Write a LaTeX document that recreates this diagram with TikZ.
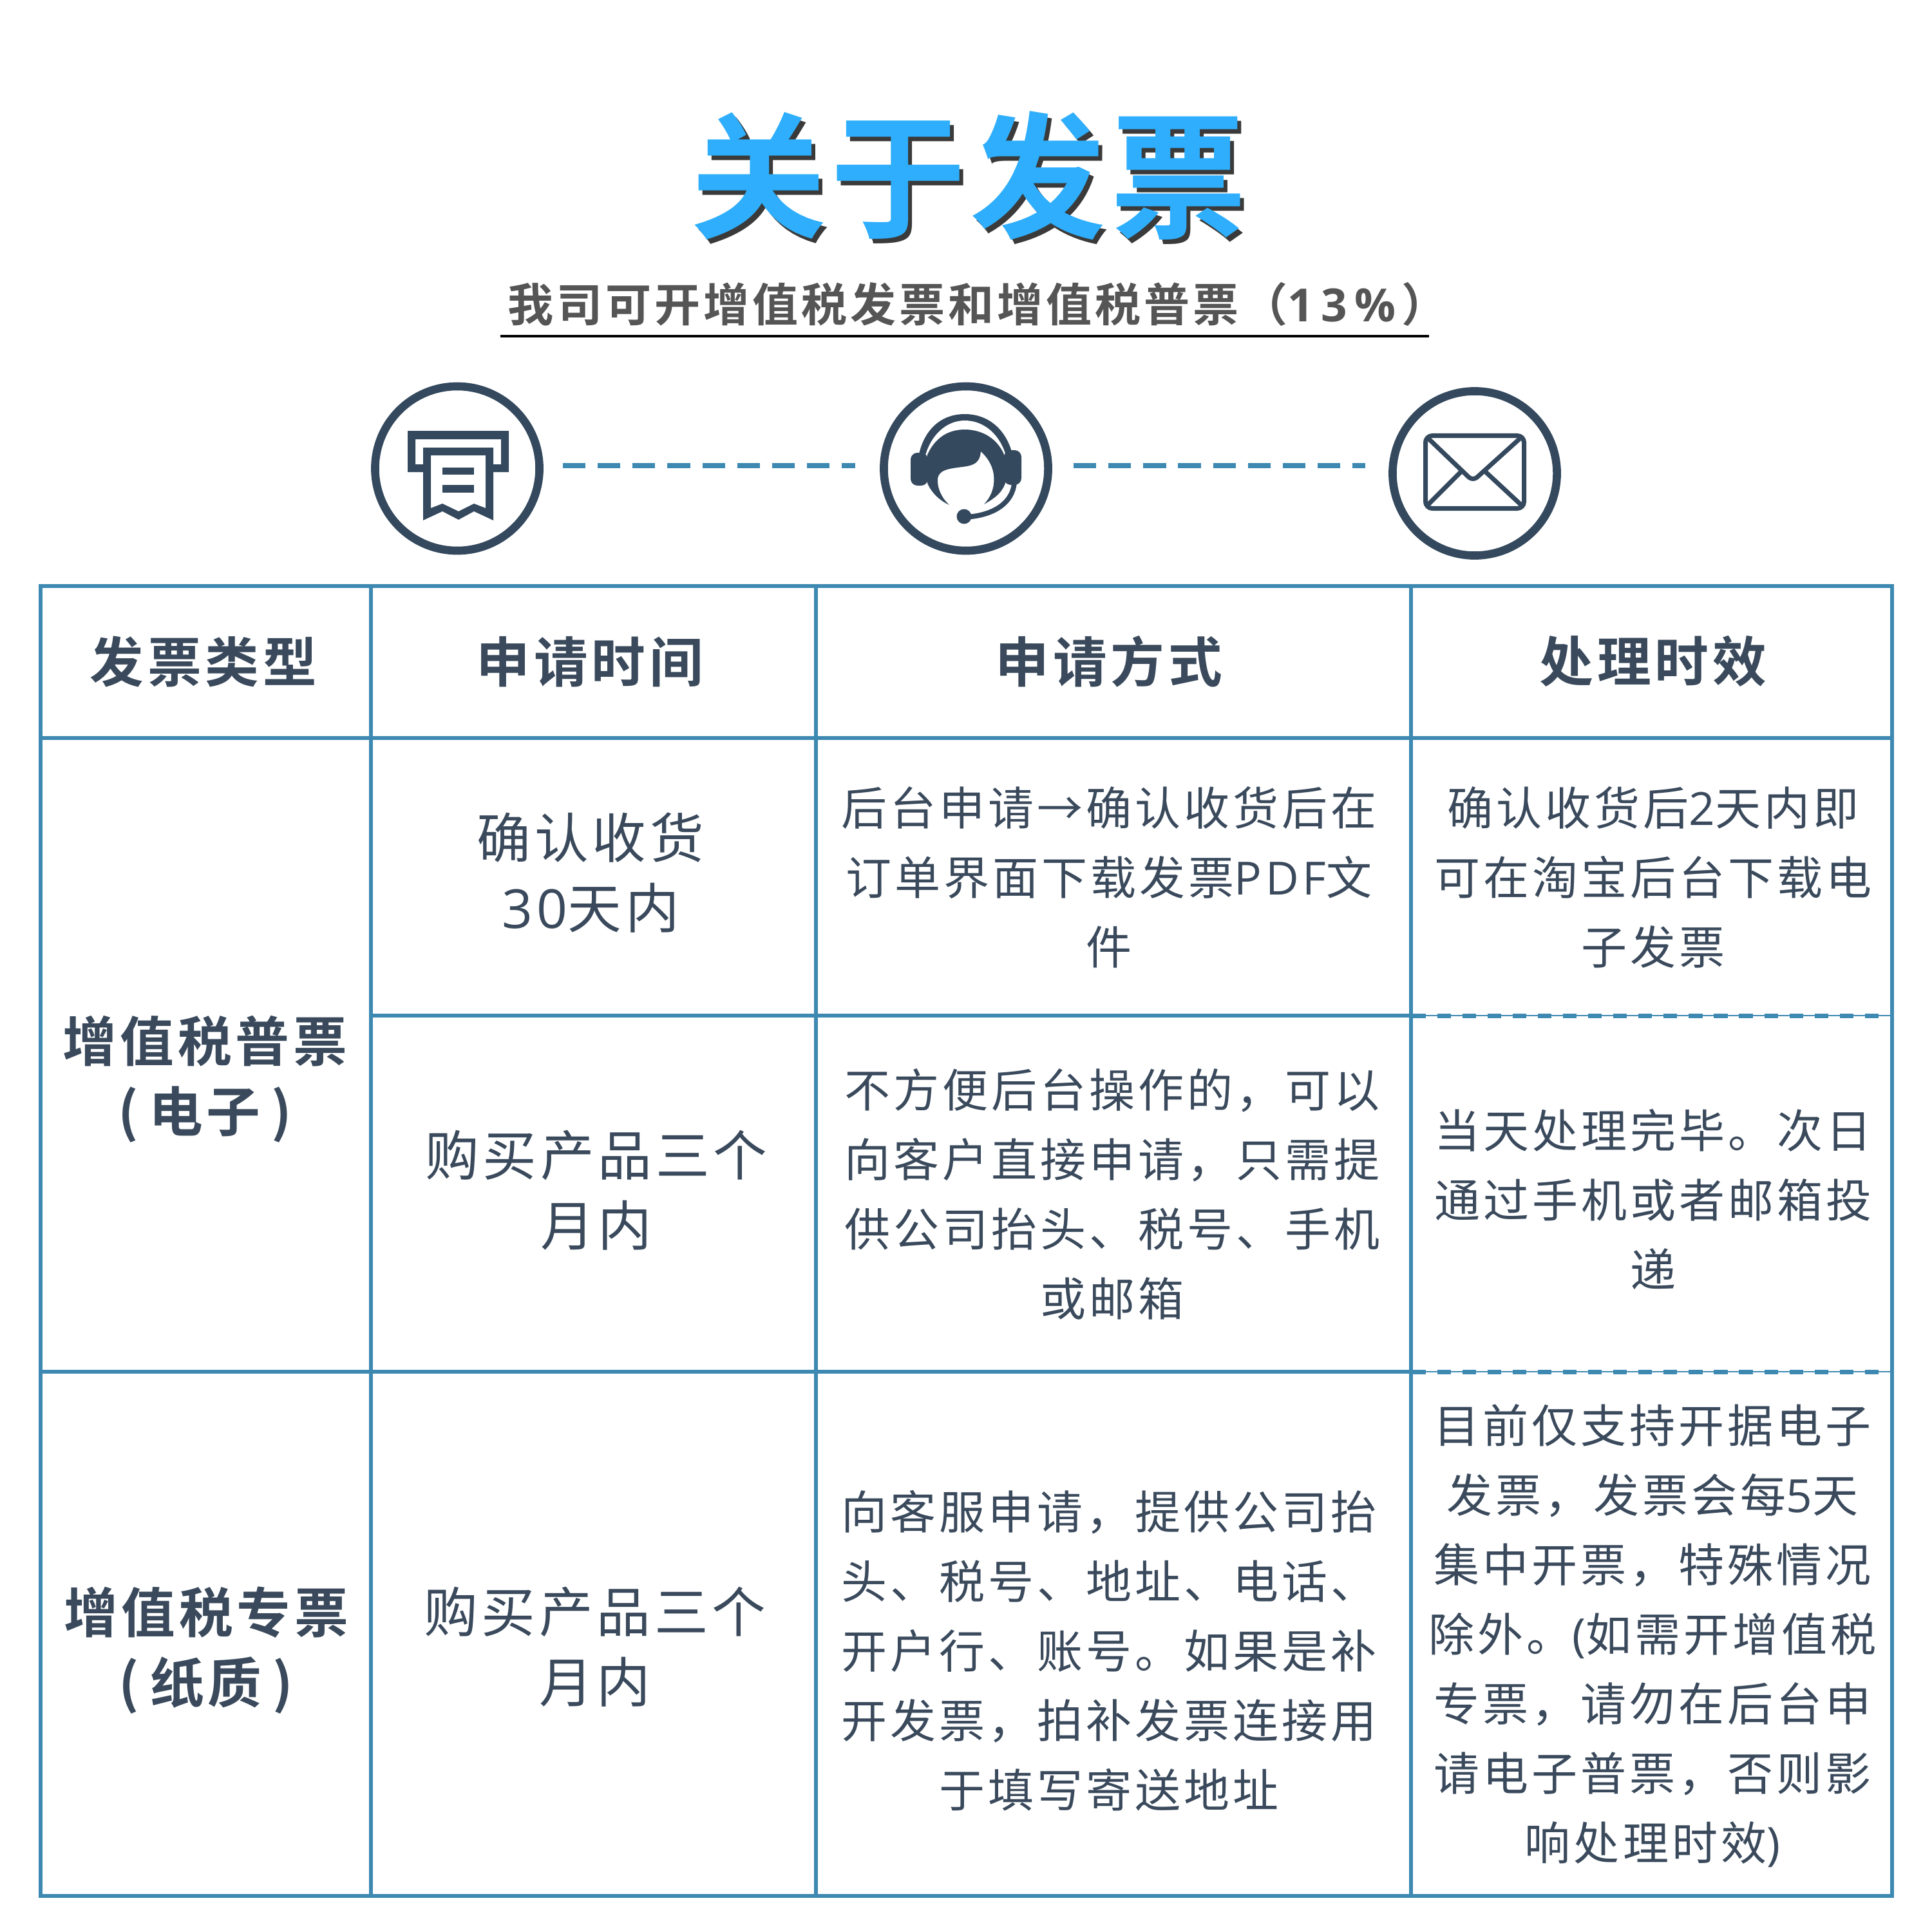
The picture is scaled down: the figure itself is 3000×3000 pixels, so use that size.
\documentclass[tikz,border=0pt]{standalone}
\usepackage{fontspec}
\setmainfont{Noto Sans CJK SC}
\newfontfamily\zhf[LetterSpace=7,BoldFont={Noto Sans CJK SC Bold}]{Noto Sans CJK SC}
\newfontfamily\ltf[LetterSpace=8,BoldFont={Open Sans Bold}]{Open Sans}
\newfontfamily\ltwide[LetterSpace=16,BoldFont={Open Sans Bold}]{Open Sans}
\newfontfamily\titlef[LetterSpace=3,BoldFont={Noto Sans CJK SC Bold}]{Noto Sans CJK SC}
\newcommand\ltn[1]{{\ltf #1}}
\definecolor{ink}{HTML}{3A4A5C}
\definecolor{iconink}{HTML}{34495E}
\definecolor{rule}{HTML}{3D89B1}
\definecolor{titleblue}{HTML}{2EAEFC}
\definecolor{shade}{HTML}{3A3A3A}
\definecolor{subgray}{HTML}{555555}
\tikzset{
  x=0.01cm,y=-0.01cm,
  txt/.style={inner sep=0pt,align=center,text=ink},
  small/.style={txt,font=\fontsize{20.2}{30.7}\selectfont\zhf},
  mid/.style={txt,font=\fontsize{23.8}{31}\selectfont\zhf},
  head/.style={txt,font=\fontsize{23.8}{31}\selectfont\zhf\bfseries},
  grid/.style={draw=rule,line width=1.9pt},
  ringnode/.style={circle,draw=iconink,line width=3.6pt,inner sep=0pt,minimum size=2.55cm},
  flow/.style={draw=rule,line width=2.1pt,dash pattern=on 10pt off 5.4pt},
  iconfill/.style={fill=iconink,draw=none},
  cellbreak/.style={draw=rule,line width=2pt,dash pattern=on 6pt off 5.1pt},
  cellhair/.style={draw=rule,line width=0.4pt},
}
\begin{document}
\begin{tikzpicture}
\useasboundingbox (0,0) rectangle (3000,3000);
\fill[white] (0,0) rectangle (3000,3000);

% title
\node[inner sep=0pt,text=shade,font=\fontsize{60}{63}\selectfont\titlef\bfseries] (titleshade) at (1510,280) {关于发票};
\node[inner sep=0pt,text=titleblue,font=\fontsize{60}{63}\selectfont\titlef\bfseries] (title) at (1504,273) {关于发票};
\node[inner sep=0pt,text=subgray,font=\fontsize{20.2}{24}\selectfont\zhf\bfseries] (sub) at (1518,473) {我司可开增值税发票和增值税普票（{\ltwide 13\%}\hspace{0.12em}）};
\draw[black,line width=0.9pt] (777,522) -- (2219,522);

% icon rings
\node[ringnode] (ring1) at (710,727.5) {};
\node[ringnode] (ring2) at (1500,727.5) {};
\node[ringnode] (ring3) at (2290,735) {};

% connectors
\coordinate (l1a) at (874,723); \coordinate (l1b) at (1328,723);
\coordinate (l2a) at (1667,723); \coordinate (l2b) at (2120,723);
\draw[flow] (l1a) -- (l1b);
\draw[flow] (l2a) -- (l2b);

% receipt icon
\fill[iconfill,even odd rule] (633,669) -- (790,669) -- (790,733) -- (766,733) -- (766,721) -- (778,721) -- (778,682) -- (645,682) -- (645,721) -- (657,721) -- (657,733) -- (633,733) -- cycle;
\fill[iconfill,even odd rule] (657,695) -- (766,695) -- (766,808) -- (736,794) -- (712,807) -- (687,794) -- (657,808) -- cycle
  (669,707) -- (754,707) -- (754,789) -- (736,782) -- (712,794) -- (687,782) -- (669,789) -- cycle;
\fill[iconfill] (687,726) rectangle (736,737);
\fill[iconfill] (687,753) rectangle (736,765);

% headset icon
\fill[iconfill] (1427,705) .. controls (1436,666) and (1462,643) .. (1498,643) .. controls (1534,643) and (1562,666) .. (1572,705) -- cycle;
\fill[white] (1437,707) .. controls (1446,675) and (1470,653) .. (1498,653) .. controls (1528,653) and (1553,675) .. (1562,708) -- cycle;
\fill[iconfill] (1440,706) .. controls (1452,680) and (1472,667) .. (1498,667) .. controls (1526,667) and (1550,682) .. (1560,708) -- (1562,747) .. controls (1558,762) and (1548,772) .. (1528,783)
  .. controls (1540,770) and (1545,755) .. (1543,737) .. controls (1541,722) and (1533,710) .. (1523,701)
  .. controls (1522,710) and (1520,716) .. (1513,720) .. controls (1505,725) and (1490,725) .. (1480,727) .. controls (1468,729) and (1458,732) .. (1456,743) .. controls (1455,758) and (1462,773) .. (1474,784)
  .. controls (1460,778) and (1446,765) .. (1440,750) -- cycle;
\fill[iconfill,rounded corners=3pt] (1414,703) rectangle (1441,754);
\fill[iconfill,rounded corners=3pt] (1559,699) rectangle (1586,753);
\draw[iconink,line width=2.2pt] (1575,750) .. controls (1572,780) and (1545,800) .. (1500,803);
\fill[iconfill] (1497,802) circle (11.5);

% envelope icon
\draw[iconink,line width=2pt,rounded corners=3pt] (2213.5,676.5) rectangle (2366.5,789.5);
\draw[iconink,line width=2pt,rounded corners=2.5pt] (2218,681) -- (2287,747) -- (2360,681);
\draw[iconink,line width=2pt] (2217,784) -- (2268,733);
\draw[iconink,line width=2pt] (2362,784) -- (2307,733);

% table
\draw[grid] (63,910) rectangle (2938,2944);
\draw[grid] (576,910) -- (576,2944);
\draw[grid] (1267,910) -- (1267,2944);
\draw[grid] (2191,910) -- (2191,2944);
\draw[grid] (63,1146) -- (2938,1146);
\draw[grid] (576,1577) -- (2191,1577);
\draw[grid] (63,2130) -- (2191,2130);
\draw[cellhair] (2191,1577) -- (2938,1577);
\draw[cellbreak] (2193,1577) -- (2938,1577);
\draw[cellhair] (2191,2130) -- (2938,2130);
\draw[cellbreak] (2193,2130) -- (2938,2130);

% header
\node[head] (h1) at (316,1027) {发票类型};
\node[head] (h2) at (916,1028) {申请时间};
\node[head] (h3) at (1722,1027) {申请方式};
\node[head] (h4) at (2567,1027) {处理时效};

% first column
\node[head] (t1) at (318,1676) {增值税普票\\(\hspace{0.2em}电子\hspace{0.2em})};
\node[head] (t2) at (320,2563) {增值税专票\\(\hspace{0.2em}纸质\hspace{0.2em})};

% second column
\node[mid] (w1) at (917,1355) {确认收货\\\ltn{30}天内};
\node[mid] (w2) at (926,1848) {购买产品三个\\月内};
\node[mid] (w3) at (924,2557) {购买产品三个\\月内};

% third column
\node[small] (m1) at (1722,1362) {后台申请→确认收货后在\\订单界面下载发票\ltn{PDF}文\\件};
\node[small] (m2) at (1727,1854) {不方便后台操作的，可以\\向客户直接申请，只需提\\供公司抬头、税号、手机\\或邮箱};
\node[small] (m3) at (1722,2563) {向客服申请，提供公司抬\\头、税号、地址、电话、\\开户行、账号。如果是补\\开发票，拍补发票连接用\\于填写寄送地址};

% fourth column
\node[small] (p1) at (2567,1362) {确认收货后\ltn{2}天内即\\可在淘宝后台下载电\\子发票};
\node[small] (p2) at (2567,1862) {当天处理完毕。次日\\通过手机或者邮箱投\\递};
\node[small] (p3) at (2566,2540) {目前仅支持开据电子\\发票，发票会每\ltn{5}天\\集中开票，特殊情况\\除外。\ltn{(}如需开增值税\\专票，请勿在后台申\\请电子普票，否则影\\响处理时效\ltn{)}};
\end{tikzpicture}
\end{document}
